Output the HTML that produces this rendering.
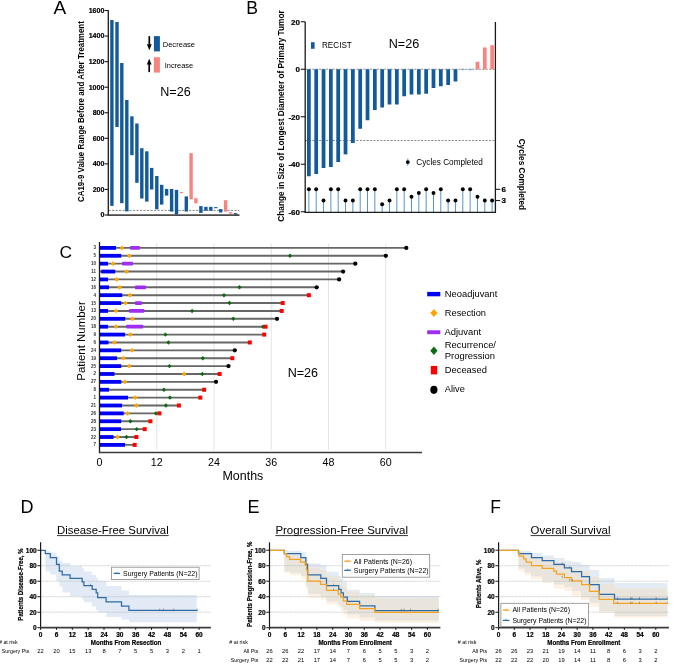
<!DOCTYPE html>
<html><head><meta charset="utf-8"><title>Figure</title>
<style>
html,body{margin:0;padding:0;background:#fff;}
body{width:685px;height:664px;overflow:hidden;}
svg{display:block;font-family:"Liberation Sans",sans-serif;will-change:transform;}
</style></head><body>
<svg width="685" height="664" viewBox="0 0 685 664">
<rect x="0" y="0" width="685" height="664" fill="#fff"/>
<text x="53.4" y="13.8" font-size="19">A</text>
<line x1="108.5" y1="210.4" x2="239.3" y2="210.4" stroke="#555" stroke-width="0.7" stroke-dasharray="2.2 1.3"/>
<rect x="110.2" y="20" width="3.4" height="185.9" fill="#135a9c"/>
<rect x="115.3" y="22" width="3.4" height="105" fill="#135a9c"/>
<rect x="120.1" y="63" width="3.4" height="140.2" fill="#135a9c"/>
<rect x="125.1" y="100" width="3.4" height="111.4" fill="#135a9c"/>
<rect x="130.2" y="116.3" width="3.4" height="38.9" fill="#135a9c"/>
<rect x="135.2" y="123.5" width="3.4" height="59.3" fill="#135a9c"/>
<rect x="140.1" y="148.2" width="3.4" height="50.3" fill="#135a9c"/>
<rect x="145.1" y="151.3" width="3.4" height="50.3" fill="#135a9c"/>
<rect x="150" y="167.9" width="3.4" height="21.6" fill="#135a9c"/>
<rect x="155.1" y="176" width="3.4" height="33.3" fill="#135a9c"/>
<rect x="160" y="184.8" width="3.4" height="19.8" fill="#135a9c"/>
<rect x="164.9" y="188.9" width="3.4" height="6.7" fill="#135a9c"/>
<rect x="169.9" y="188.9" width="3.4" height="22.7" fill="#135a9c"/>
<rect x="174.8" y="189.9" width="3.4" height="24.5" fill="#135a9c"/>
<rect x="179.7" y="192" width="3.4" height="1.1" fill="#f88482"/>
<rect x="184.6" y="196.4" width="3.4" height="15.1" fill="#135a9c"/>
<rect x="189.4" y="153.1" width="3.4" height="46.3" fill="#f88482"/>
<rect x="194.2" y="198.2" width="3.4" height="5.1" fill="#f88482"/>
<rect x="199.2" y="206.1" width="3.4" height="6.8" fill="#135a9c"/>
<rect x="204.2" y="206.8" width="3.4" height="3.9" fill="#135a9c"/>
<rect x="209.1" y="206.8" width="3.4" height="3.9" fill="#135a9c"/>
<rect x="214.1" y="207.1" width="3.4" height="1.1" fill="#135a9c"/>
<rect x="219" y="209.1" width="3.4" height="3.4" fill="#135a9c"/>
<rect x="223.9" y="200.2" width="3.4" height="11.5" fill="#f88482"/>
<rect x="229" y="212.2" width="3.4" height="1.5" fill="#f88482"/>
<rect x="233.9" y="213.2" width="3.4" height="1.5" fill="#0d3d6e"/>
<line x1="108.3" y1="10" x2="108.3" y2="215.8" stroke="#1a1a1a" stroke-width="1.3"/>
<line x1="107.7" y1="215.1" x2="239.5" y2="215.1" stroke="#4a4a4a" stroke-width="1.8"/>
<line x1="104.6" y1="215" x2="108.3" y2="215" stroke="#1a1a1a" stroke-width="1.1"/>
<text x="104.4" y="217.3" font-size="7.05" font-weight="bold" text-anchor="end" stroke="#000" stroke-width="0.2">0</text>
<line x1="104.6" y1="189.44" x2="108.3" y2="189.44" stroke="#1a1a1a" stroke-width="1.1"/>
<text x="104.4" y="191.74" font-size="7.05" font-weight="bold" text-anchor="end" stroke="#000" stroke-width="0.2">200</text>
<line x1="104.6" y1="163.88" x2="108.3" y2="163.88" stroke="#1a1a1a" stroke-width="1.1"/>
<text x="104.4" y="166.18" font-size="7.05" font-weight="bold" text-anchor="end" stroke="#000" stroke-width="0.2">400</text>
<line x1="104.6" y1="138.32" x2="108.3" y2="138.32" stroke="#1a1a1a" stroke-width="1.1"/>
<text x="104.4" y="140.62" font-size="7.05" font-weight="bold" text-anchor="end" stroke="#000" stroke-width="0.2">600</text>
<line x1="104.6" y1="112.76" x2="108.3" y2="112.76" stroke="#1a1a1a" stroke-width="1.1"/>
<text x="104.4" y="115.06" font-size="7.05" font-weight="bold" text-anchor="end" stroke="#000" stroke-width="0.2">800</text>
<line x1="104.6" y1="87.2" x2="108.3" y2="87.2" stroke="#1a1a1a" stroke-width="1.1"/>
<text x="104.4" y="89.5" font-size="7.05" font-weight="bold" text-anchor="end" stroke="#000" stroke-width="0.2">1000</text>
<line x1="104.6" y1="61.64" x2="108.3" y2="61.64" stroke="#1a1a1a" stroke-width="1.1"/>
<text x="104.4" y="63.94" font-size="7.05" font-weight="bold" text-anchor="end" stroke="#000" stroke-width="0.2">1200</text>
<line x1="104.6" y1="36.08" x2="108.3" y2="36.08" stroke="#1a1a1a" stroke-width="1.1"/>
<text x="104.4" y="38.38" font-size="7.05" font-weight="bold" text-anchor="end" stroke="#000" stroke-width="0.2">1400</text>
<line x1="104.6" y1="10.52" x2="108.3" y2="10.52" stroke="#1a1a1a" stroke-width="1.1"/>
<text x="104.4" y="12.82" font-size="7.05" font-weight="bold" text-anchor="end" stroke="#000" stroke-width="0.2">1600</text>
<line x1="149.3" y1="36.2" x2="149.3" y2="45" stroke="#000" stroke-width="1.7"/>
<polygon points="146.9,44.2 151.7,44.2 149.3,50.2" fill="#000"/>
<rect x="153.9" y="36.1" width="6" height="15.3" fill="#135a9c"/>
<text x="162.7" y="46.9" font-size="7.8" textLength="32.4" lengthAdjust="spacingAndGlyphs">Decrease</text>
<line x1="149.2" y1="63.5" x2="149.2" y2="72.1" stroke="#000" stroke-width="1.7"/>
<polygon points="146.8,64.6 151.6,64.6 149.2,58.7" fill="#000"/>
<rect x="153.9" y="57.2" width="6" height="15.4" fill="#f88482"/>
<text x="164.7" y="68.1" font-size="7.8" textLength="28.5" lengthAdjust="spacingAndGlyphs">Increase</text>
<text x="160.3" y="95.7" font-size="12.6" textLength="30.4" lengthAdjust="spacingAndGlyphs">N=26</text>
<text x="84.5" y="111.6" font-size="8.8" font-weight="bold" text-anchor="middle" transform="rotate(-90 84.5 111.6)" textLength="180.8" lengthAdjust="spacingAndGlyphs">CA19-9 Value Range Before and After Treatment</text>
<text x="246.2" y="13.8" font-size="17.6">B</text>
<line x1="305.5" y1="69.25" x2="495.4" y2="69.25" stroke="#555" stroke-width="0.7" stroke-dasharray="2 1.4"/>
<line x1="305.5" y1="140.5" x2="495.4" y2="140.5" stroke="#555" stroke-width="0.7" stroke-dasharray="2 1.4"/>
<rect x="307" y="69.25" width="3.75" height="107" fill="#135a9c"/>
<rect x="314.33" y="69.25" width="3.75" height="104.75" fill="#135a9c"/>
<rect x="321.66" y="69.25" width="3.75" height="98.75" fill="#135a9c"/>
<rect x="328.99" y="69.25" width="3.75" height="97.75" fill="#135a9c"/>
<rect x="336.32" y="69.25" width="3.75" height="92.75" fill="#135a9c"/>
<rect x="343.65" y="69.25" width="3.75" height="85.15" fill="#135a9c"/>
<rect x="350.98" y="69.25" width="3.75" height="73.75" fill="#135a9c"/>
<rect x="358.31" y="69.25" width="3.75" height="59.5" fill="#135a9c"/>
<rect x="365.64" y="69.25" width="3.75" height="51" fill="#135a9c"/>
<rect x="372.97" y="69.25" width="3.75" height="40.75" fill="#135a9c"/>
<rect x="380.3" y="69.25" width="3.75" height="38.25" fill="#135a9c"/>
<rect x="387.63" y="69.25" width="3.75" height="35.25" fill="#135a9c"/>
<rect x="394.96" y="69.25" width="3.75" height="35.25" fill="#135a9c"/>
<rect x="402.29" y="69.25" width="3.75" height="27" fill="#135a9c"/>
<rect x="409.62" y="69.25" width="3.75" height="25.25" fill="#135a9c"/>
<rect x="416.95" y="69.25" width="3.75" height="25.25" fill="#135a9c"/>
<rect x="424.28" y="69.25" width="3.75" height="24.5" fill="#135a9c"/>
<rect x="431.61" y="69.25" width="3.75" height="18.75" fill="#135a9c"/>
<rect x="438.94" y="69.25" width="3.75" height="17" fill="#135a9c"/>
<rect x="446.27" y="69.25" width="3.75" height="15.75" fill="#135a9c"/>
<rect x="453.6" y="69.25" width="3.75" height="12.25" fill="#135a9c"/>
<rect x="460.93" y="68.95" width="3.75" height="1.2" fill="#7fa8d2"/>
<rect x="468.26" y="68.95" width="3.75" height="1.2" fill="#7fa8d2"/>
<rect x="475.59" y="61.75" width="3.75" height="7.5" fill="#f88482"/>
<rect x="482.92" y="47.5" width="3.75" height="21.75" fill="#f88482"/>
<rect x="490.25" y="45.25" width="3.75" height="24" fill="#f88482"/>
<line x1="308.88" y1="212" x2="308.88" y2="189.32" stroke="#5b93c8" stroke-width="1"/>
<circle cx="308.88" cy="189.32" r="1.95" fill="#000"/>
<line x1="316.2" y1="212" x2="316.2" y2="189.32" stroke="#5b93c8" stroke-width="1"/>
<circle cx="316.2" cy="189.32" r="1.95" fill="#000"/>
<line x1="323.54" y1="212" x2="323.54" y2="200.51" stroke="#5b93c8" stroke-width="1"/>
<circle cx="323.54" cy="200.51" r="1.95" fill="#000"/>
<line x1="330.87" y1="212" x2="330.87" y2="189.32" stroke="#5b93c8" stroke-width="1"/>
<circle cx="330.87" cy="189.32" r="1.95" fill="#000"/>
<line x1="338.19" y1="212" x2="338.19" y2="189.32" stroke="#5b93c8" stroke-width="1"/>
<circle cx="338.19" cy="189.32" r="1.95" fill="#000"/>
<line x1="345.52" y1="212" x2="345.52" y2="200.51" stroke="#5b93c8" stroke-width="1"/>
<circle cx="345.52" cy="200.51" r="1.95" fill="#000"/>
<line x1="352.86" y1="212" x2="352.86" y2="200.51" stroke="#5b93c8" stroke-width="1"/>
<circle cx="352.86" cy="200.51" r="1.95" fill="#000"/>
<line x1="360.19" y1="212" x2="360.19" y2="189.32" stroke="#5b93c8" stroke-width="1"/>
<circle cx="360.19" cy="189.32" r="1.95" fill="#000"/>
<line x1="367.51" y1="212" x2="367.51" y2="189.32" stroke="#5b93c8" stroke-width="1"/>
<circle cx="367.51" cy="189.32" r="1.95" fill="#000"/>
<line x1="374.85" y1="212" x2="374.85" y2="189.32" stroke="#5b93c8" stroke-width="1"/>
<circle cx="374.85" cy="189.32" r="1.95" fill="#000"/>
<line x1="382.18" y1="212" x2="382.18" y2="204.24" stroke="#5b93c8" stroke-width="1"/>
<circle cx="382.18" cy="204.24" r="1.95" fill="#000"/>
<line x1="389.5" y1="212" x2="389.5" y2="200.51" stroke="#5b93c8" stroke-width="1"/>
<circle cx="389.5" cy="200.51" r="1.95" fill="#000"/>
<line x1="396.84" y1="212" x2="396.84" y2="189.32" stroke="#5b93c8" stroke-width="1"/>
<circle cx="396.84" cy="189.32" r="1.95" fill="#000"/>
<line x1="404.17" y1="212" x2="404.17" y2="189.32" stroke="#5b93c8" stroke-width="1"/>
<circle cx="404.17" cy="189.32" r="1.95" fill="#000"/>
<line x1="411.5" y1="212" x2="411.5" y2="196.78" stroke="#5b93c8" stroke-width="1"/>
<circle cx="411.5" cy="196.78" r="1.95" fill="#000"/>
<line x1="418.82" y1="212" x2="418.82" y2="193.05" stroke="#5b93c8" stroke-width="1"/>
<circle cx="418.82" cy="193.05" r="1.95" fill="#000"/>
<line x1="426.15" y1="212" x2="426.15" y2="189.32" stroke="#5b93c8" stroke-width="1"/>
<circle cx="426.15" cy="189.32" r="1.95" fill="#000"/>
<line x1="433.49" y1="212" x2="433.49" y2="193.05" stroke="#5b93c8" stroke-width="1"/>
<circle cx="433.49" cy="193.05" r="1.95" fill="#000"/>
<line x1="440.81" y1="212" x2="440.81" y2="189.32" stroke="#5b93c8" stroke-width="1"/>
<circle cx="440.81" cy="189.32" r="1.95" fill="#000"/>
<line x1="448.14" y1="212" x2="448.14" y2="200.51" stroke="#5b93c8" stroke-width="1"/>
<circle cx="448.14" cy="200.51" r="1.95" fill="#000"/>
<line x1="455.48" y1="212" x2="455.48" y2="200.51" stroke="#5b93c8" stroke-width="1"/>
<circle cx="455.48" cy="200.51" r="1.95" fill="#000"/>
<line x1="462.81" y1="212" x2="462.81" y2="189.32" stroke="#5b93c8" stroke-width="1"/>
<circle cx="462.81" cy="189.32" r="1.95" fill="#000"/>
<line x1="470.13" y1="212" x2="470.13" y2="189.32" stroke="#5b93c8" stroke-width="1"/>
<circle cx="470.13" cy="189.32" r="1.95" fill="#000"/>
<line x1="477.47" y1="212" x2="477.47" y2="196.78" stroke="#5b93c8" stroke-width="1"/>
<circle cx="477.47" cy="196.78" r="1.95" fill="#000"/>
<line x1="484.8" y1="212" x2="484.8" y2="200.51" stroke="#5b93c8" stroke-width="1"/>
<circle cx="484.8" cy="200.51" r="1.95" fill="#000"/>
<line x1="492.12" y1="212" x2="492.12" y2="200.51" stroke="#5b93c8" stroke-width="1"/>
<circle cx="492.12" cy="200.51" r="1.95" fill="#000"/>
<line x1="305.2" y1="21.7" x2="305.2" y2="213" stroke="#1a1a1a" stroke-width="1.3"/>
<line x1="304.6" y1="212.4" x2="496" y2="212.4" stroke="#1a1a1a" stroke-width="1.4"/>
<line x1="495.4" y1="22" x2="495.4" y2="213" stroke="#1a1a1a" stroke-width="1.3"/>
<line x1="300.8" y1="21.75" x2="305.2" y2="21.75" stroke="#1a1a1a" stroke-width="1.1"/>
<text x="300" y="24.55" font-size="8" font-weight="bold" text-anchor="end" stroke="#000" stroke-width="0.2">20</text>
<line x1="300.8" y1="69.25" x2="305.2" y2="69.25" stroke="#1a1a1a" stroke-width="1.1"/>
<text x="300" y="72.05" font-size="8" font-weight="bold" text-anchor="end" stroke="#000" stroke-width="0.2">0</text>
<line x1="300.8" y1="116.75" x2="305.2" y2="116.75" stroke="#1a1a1a" stroke-width="1.1"/>
<text x="300" y="119.55" font-size="8" font-weight="bold" text-anchor="end" stroke="#000" stroke-width="0.2">-20</text>
<line x1="300.8" y1="164.25" x2="305.2" y2="164.25" stroke="#1a1a1a" stroke-width="1.1"/>
<text x="300" y="167.05" font-size="8" font-weight="bold" text-anchor="end" stroke="#000" stroke-width="0.2">-40</text>
<line x1="300.8" y1="211.75" x2="305.2" y2="211.75" stroke="#1a1a1a" stroke-width="1.1"/>
<text x="300" y="214.55" font-size="8" font-weight="bold" text-anchor="end" stroke="#000" stroke-width="0.2">-60</text>
<line x1="495.4" y1="189.32" x2="500.2" y2="189.32" stroke="#1a1a1a" stroke-width="1.1"/>
<text x="501.4" y="192.12" font-size="8" font-weight="bold" stroke="#000" stroke-width="0.2">6</text>
<line x1="495.4" y1="200.51" x2="500.2" y2="200.51" stroke="#1a1a1a" stroke-width="1.1"/>
<text x="501.4" y="203.31" font-size="8" font-weight="bold" stroke="#000" stroke-width="0.2">3</text>
<rect x="311" y="42.2" width="3.6" height="6.6" fill="#135a9c"/>
<text x="322" y="48.2" font-size="9.3" textLength="29.8" lengthAdjust="spacingAndGlyphs">RECIST</text>
<text x="388.7" y="48.3" font-size="12.6" textLength="30.5" lengthAdjust="spacingAndGlyphs">N=26</text>
<line x1="407.8" y1="158.6" x2="407.8" y2="165.8" stroke="#5b93c8" stroke-width="1"/>
<circle cx="407.8" cy="162.1" r="1.95" fill="#000"/>
<text x="416.3" y="165" font-size="8.2" textLength="66.5" lengthAdjust="spacingAndGlyphs">Cycles Completed</text>
<text x="284.1" y="116" font-size="8.8" font-weight="bold" text-anchor="middle" transform="rotate(-90 284.1 116)" textLength="211.3" lengthAdjust="spacingAndGlyphs">Change in Size of Longest Diameter of Primary Tumor</text>
<text x="519.3" y="174.4" font-size="8.25" font-weight="bold" text-anchor="middle" transform="rotate(90 519.3 174.4)" textLength="71.5" lengthAdjust="spacingAndGlyphs">Cycles Completed</text>
<text x="59.4" y="257.6" font-size="17.4">C</text>
<line x1="156.74" y1="243.5" x2="156.74" y2="449.8" stroke="#dcdcdc" stroke-width="0.8"/>
<line x1="213.98" y1="243.5" x2="213.98" y2="449.8" stroke="#dcdcdc" stroke-width="0.8"/>
<line x1="271.22" y1="243.5" x2="271.22" y2="449.8" stroke="#dcdcdc" stroke-width="0.8"/>
<line x1="328.46" y1="243.5" x2="328.46" y2="449.8" stroke="#dcdcdc" stroke-width="0.8"/>
<line x1="385.7" y1="243.5" x2="385.7" y2="449.8" stroke="#dcdcdc" stroke-width="0.8"/>
<line x1="99.5" y1="247.9" x2="406.3" y2="247.9" stroke="#676767" stroke-width="1.9"/>
<rect x="100" y="246" width="16" height="3.8" fill="#0000f5"/>
<rect x="130" y="246" width="10" height="3.8" fill="#a02ef0" rx="0.8"/>
<polygon points="122,245.5 124.3,247.9 122,250.3 119.7,247.9" fill="#ffa500"/>
<circle cx="406.3" cy="247.9" r="2.15" fill="#000"/>
<text x="96" y="249.4" font-size="4.5" font-weight="bold" text-anchor="end" fill="#333">3</text>
<line x1="99.5" y1="255.78" x2="385.8" y2="255.78" stroke="#676767" stroke-width="1.9"/>
<rect x="100" y="253.88" width="21.2" height="3.8" fill="#0000f5"/>
<polygon points="129.4,253.38 131.7,255.78 129.4,258.18 127.1,255.78" fill="#ffa500"/>
<polygon points="290,253.58 292.1,255.78 290,257.98 287.9,255.78" fill="#0b6a12"/>
<circle cx="385.8" cy="255.78" r="2.15" fill="#000"/>
<text x="96" y="257.28" font-size="4.5" font-weight="bold" text-anchor="end" fill="#333">5</text>
<line x1="99.5" y1="263.66" x2="355.3" y2="263.66" stroke="#676767" stroke-width="1.9"/>
<rect x="100" y="261.76" width="8" height="3.8" fill="#0000f5"/>
<rect x="122" y="261.76" width="11" height="3.8" fill="#a02ef0" rx="0.8"/>
<polygon points="113,261.26 115.3,263.66 113,266.06 110.7,263.66" fill="#ffa500"/>
<circle cx="355.3" cy="263.66" r="2.15" fill="#000"/>
<text x="96" y="265.16" font-size="4.5" font-weight="bold" text-anchor="end" fill="#333">10</text>
<line x1="99.5" y1="271.54" x2="343.1" y2="271.54" stroke="#676767" stroke-width="1.9"/>
<rect x="101.2" y="269.64" width="14" height="3.8" fill="#0000f5"/>
<polygon points="126.5,269.14 128.8,271.54 126.5,273.94 124.2,271.54" fill="#ffa500"/>
<circle cx="343.1" cy="271.54" r="2.15" fill="#000"/>
<text x="96" y="273.04" font-size="4.5" font-weight="bold" text-anchor="end" fill="#333">11</text>
<line x1="99.5" y1="279.42" x2="339.1" y2="279.42" stroke="#676767" stroke-width="1.9"/>
<rect x="100" y="277.52" width="8" height="3.8" fill="#0000f5"/>
<polygon points="116.7,277.02 119,279.42 116.7,281.82 114.4,279.42" fill="#ffa500"/>
<circle cx="339.1" cy="279.42" r="2.15" fill="#000"/>
<text x="96" y="280.92" font-size="4.5" font-weight="bold" text-anchor="end" fill="#333">12</text>
<line x1="99.5" y1="287.3" x2="316.7" y2="287.3" stroke="#676767" stroke-width="1.9"/>
<rect x="100" y="285.4" width="9" height="3.8" fill="#0000f5"/>
<rect x="135" y="285.4" width="11" height="3.8" fill="#a02ef0" rx="0.8"/>
<polygon points="119.7,284.9 122,287.3 119.7,289.7 117.4,287.3" fill="#ffa500"/>
<polygon points="239.5,285.1 241.6,287.3 239.5,289.5 237.4,287.3" fill="#0b6a12"/>
<circle cx="316.7" cy="287.3" r="2.15" fill="#000"/>
<text x="96" y="288.8" font-size="4.5" font-weight="bold" text-anchor="end" fill="#333">16</text>
<line x1="99.5" y1="295.18" x2="308.9" y2="295.18" stroke="#676767" stroke-width="1.9"/>
<rect x="100" y="293.28" width="22.2" height="3.8" fill="#0000f5"/>
<polygon points="130,292.78 132.3,295.18 130,297.58 127.7,295.18" fill="#ffa500"/>
<polygon points="224,292.98 226.1,295.18 224,297.38 221.9,295.18" fill="#0b6a12"/>
<rect x="306.9" y="293.18" width="4" height="4" fill="#ff0000"/>
<text x="96" y="296.68" font-size="4.5" font-weight="bold" text-anchor="end" fill="#333">4</text>
<line x1="99.5" y1="303.06" x2="282.7" y2="303.06" stroke="#676767" stroke-width="1.9"/>
<rect x="100" y="301.16" width="21.2" height="3.8" fill="#0000f5"/>
<rect x="135" y="301.16" width="7" height="3.8" fill="#a02ef0" rx="0.8"/>
<polygon points="125.5,300.66 127.8,303.06 125.5,305.46 123.2,303.06" fill="#ffa500"/>
<polygon points="229.5,300.86 231.6,303.06 229.5,305.26 227.4,303.06" fill="#0b6a12"/>
<rect x="280.7" y="301.06" width="4" height="4" fill="#ff0000"/>
<text x="96" y="304.56" font-size="4.5" font-weight="bold" text-anchor="end" fill="#333">15</text>
<line x1="99.5" y1="310.94" x2="281.7" y2="310.94" stroke="#676767" stroke-width="1.9"/>
<rect x="100" y="309.04" width="8" height="3.8" fill="#0000f5"/>
<rect x="129" y="309.04" width="15.4" height="3.8" fill="#a02ef0" rx="0.8"/>
<polygon points="116,308.54 118.3,310.94 116,313.34 113.7,310.94" fill="#ffa500"/>
<polygon points="192.1,308.74 194.2,310.94 192.1,313.14 190,310.94" fill="#0b6a12"/>
<rect x="279.7" y="308.94" width="4" height="4" fill="#ff0000"/>
<text x="96" y="312.44" font-size="4.5" font-weight="bold" text-anchor="end" fill="#333">13</text>
<line x1="99.5" y1="318.82" x2="277" y2="318.82" stroke="#676767" stroke-width="1.9"/>
<rect x="100" y="316.92" width="25.2" height="3.8" fill="#0000f5"/>
<polygon points="132.4,316.42 134.7,318.82 132.4,321.22 130.1,318.82" fill="#ffa500"/>
<polygon points="233.3,316.62 235.4,318.82 233.3,321.02 231.2,318.82" fill="#0b6a12"/>
<circle cx="277" cy="318.82" r="2.15" fill="#000"/>
<text x="96" y="320.32" font-size="4.5" font-weight="bold" text-anchor="end" fill="#333">20</text>
<line x1="99.5" y1="326.7" x2="265.5" y2="326.7" stroke="#676767" stroke-width="1.9"/>
<rect x="100" y="324.8" width="8" height="3.8" fill="#0000f5"/>
<rect x="126.2" y="324.8" width="17" height="3.8" fill="#a02ef0" rx="0.8"/>
<polygon points="116,324.3 118.3,326.7 116,329.1 113.7,326.7" fill="#ffa500"/>
<polygon points="263,324.5 265.1,326.7 263,328.9 260.9,326.7" fill="#0b6a12"/>
<rect x="263.5" y="324.7" width="4" height="4" fill="#ff0000"/>
<text x="96" y="328.2" font-size="4.5" font-weight="bold" text-anchor="end" fill="#333">18</text>
<line x1="99.5" y1="334.58" x2="264.2" y2="334.58" stroke="#676767" stroke-width="1.9"/>
<rect x="100" y="332.68" width="25" height="3.8" fill="#0000f5"/>
<polygon points="130.4,332.18 132.7,334.58 130.4,336.98 128.1,334.58" fill="#ffa500"/>
<polygon points="165.4,332.38 167.5,334.58 165.4,336.78 163.3,334.58" fill="#0b6a12"/>
<rect x="262.2" y="332.58" width="4" height="4" fill="#ff0000"/>
<text x="96" y="336.08" font-size="4.5" font-weight="bold" text-anchor="end" fill="#333">9</text>
<line x1="99.5" y1="342.46" x2="249.8" y2="342.46" stroke="#676767" stroke-width="1.9"/>
<rect x="100" y="340.56" width="8.5" height="3.8" fill="#0000f5"/>
<polygon points="114.5,340.06 116.8,342.46 114.5,344.86 112.2,342.46" fill="#ffa500"/>
<polygon points="168.4,340.26 170.5,342.46 168.4,344.66 166.3,342.46" fill="#0b6a12"/>
<rect x="247.8" y="340.46" width="4" height="4" fill="#ff0000"/>
<text x="96" y="343.96" font-size="4.5" font-weight="bold" text-anchor="end" fill="#333">6</text>
<line x1="99.5" y1="350.34" x2="234.8" y2="350.34" stroke="#676767" stroke-width="1.9"/>
<rect x="100" y="348.44" width="21.2" height="3.8" fill="#0000f5"/>
<polygon points="132,347.94 134.3,350.34 132,352.74 129.7,350.34" fill="#ffa500"/>
<circle cx="234.8" cy="350.34" r="2.15" fill="#000"/>
<text x="96" y="351.84" font-size="4.5" font-weight="bold" text-anchor="end" fill="#333">24</text>
<line x1="99.5" y1="358.22" x2="232.3" y2="358.22" stroke="#676767" stroke-width="1.9"/>
<rect x="100" y="356.32" width="17" height="3.8" fill="#0000f5"/>
<polygon points="123.5,355.82 125.8,358.22 123.5,360.62 121.2,358.22" fill="#ffa500"/>
<polygon points="202.8,356.02 204.9,358.22 202.8,360.42 200.7,358.22" fill="#0b6a12"/>
<rect x="230.3" y="356.22" width="4" height="4" fill="#ff0000"/>
<text x="96" y="359.72" font-size="4.5" font-weight="bold" text-anchor="end" fill="#333">19</text>
<line x1="99.5" y1="366.1" x2="228.5" y2="366.1" stroke="#676767" stroke-width="1.9"/>
<rect x="100" y="364.2" width="21.2" height="3.8" fill="#0000f5"/>
<polygon points="129.2,363.7 131.5,366.1 129.2,368.5 126.9,366.1" fill="#ffa500"/>
<polygon points="169.4,363.9 171.5,366.1 169.4,368.3 167.3,366.1" fill="#0b6a12"/>
<circle cx="228.5" cy="366.1" r="2.15" fill="#000"/>
<text x="96" y="367.6" font-size="4.5" font-weight="bold" text-anchor="end" fill="#333">25</text>
<line x1="99.5" y1="373.98" x2="219.6" y2="373.98" stroke="#676767" stroke-width="1.9"/>
<rect x="100" y="372.08" width="14.5" height="3.8" fill="#0000f5"/>
<polygon points="184.1,371.58 186.4,373.98 184.1,376.38 181.8,373.98" fill="#ffa500"/>
<polygon points="202.3,371.78 204.4,373.98 202.3,376.18 200.2,373.98" fill="#0b6a12"/>
<rect x="217.6" y="371.98" width="4" height="4" fill="#ff0000"/>
<text x="96" y="375.48" font-size="4.5" font-weight="bold" text-anchor="end" fill="#333">2</text>
<line x1="99.5" y1="381.86" x2="216" y2="381.86" stroke="#676767" stroke-width="1.9"/>
<rect x="100" y="379.96" width="21.2" height="3.8" fill="#0000f5"/>
<polygon points="125,379.46 127.3,381.86 125,384.26 122.7,381.86" fill="#ffa500"/>
<circle cx="216" cy="381.86" r="2.15" fill="#000"/>
<text x="96" y="383.36" font-size="4.5" font-weight="bold" text-anchor="end" fill="#333">27</text>
<line x1="99.5" y1="389.74" x2="204.1" y2="389.74" stroke="#676767" stroke-width="1.9"/>
<rect x="100" y="387.84" width="9" height="3.8" fill="#0000f5"/>
<polygon points="163.9,387.54 166,389.74 163.9,391.94 161.8,389.74" fill="#0b6a12"/>
<rect x="202.1" y="387.74" width="4" height="4" fill="#ff0000"/>
<text x="96" y="391.24" font-size="4.5" font-weight="bold" text-anchor="end" fill="#333">8</text>
<line x1="99.5" y1="397.62" x2="200.3" y2="397.62" stroke="#676767" stroke-width="1.9"/>
<rect x="100" y="395.72" width="28" height="3.8" fill="#0000f5"/>
<polygon points="135.2,395.22 137.5,397.62 135.2,400.02 132.9,397.62" fill="#ffa500"/>
<polygon points="169.9,395.42 172,397.62 169.9,399.82 167.8,397.62" fill="#0b6a12"/>
<rect x="198.3" y="395.62" width="4" height="4" fill="#ff0000"/>
<text x="96" y="399.12" font-size="4.5" font-weight="bold" text-anchor="end" fill="#333">1</text>
<line x1="99.5" y1="405.5" x2="178.9" y2="405.5" stroke="#676767" stroke-width="1.9"/>
<rect x="100" y="403.6" width="22" height="3.8" fill="#0000f5"/>
<polygon points="136.4,403.1 138.7,405.5 136.4,407.9 134.1,405.5" fill="#ffa500"/>
<polygon points="165.9,403.3 168,405.5 165.9,407.7 163.8,405.5" fill="#0b6a12"/>
<rect x="176.9" y="403.5" width="4" height="4" fill="#ff0000"/>
<text x="96" y="407" font-size="4.5" font-weight="bold" text-anchor="end" fill="#333">21</text>
<line x1="99.5" y1="413.38" x2="159.4" y2="413.38" stroke="#676767" stroke-width="1.9"/>
<rect x="100" y="411.48" width="23.7" height="3.8" fill="#0000f5"/>
<polygon points="127.5,410.98 129.8,413.38 127.5,415.78 125.2,413.38" fill="#ffa500"/>
<polygon points="155.9,411.18 158,413.38 155.9,415.58 153.8,413.38" fill="#0b6a12"/>
<rect x="157.4" y="411.38" width="4" height="4" fill="#ff0000"/>
<text x="96" y="414.88" font-size="4.5" font-weight="bold" text-anchor="end" fill="#333">26</text>
<line x1="99.5" y1="421.26" x2="150.4" y2="421.26" stroke="#676767" stroke-width="1.9"/>
<rect x="100" y="419.36" width="21.2" height="3.8" fill="#0000f5"/>
<polygon points="130.4,419.06 132.5,421.26 130.4,423.46 128.3,421.26" fill="#0b6a12"/>
<rect x="148.4" y="419.26" width="4" height="4" fill="#ff0000"/>
<text x="96" y="422.76" font-size="4.5" font-weight="bold" text-anchor="end" fill="#333">28</text>
<line x1="99.5" y1="429.14" x2="144.7" y2="429.14" stroke="#676767" stroke-width="1.9"/>
<rect x="100" y="427.24" width="21" height="3.8" fill="#0000f5"/>
<polygon points="136.7,426.94 138.8,429.14 136.7,431.34 134.6,429.14" fill="#0b6a12"/>
<rect x="142.7" y="427.14" width="4" height="4" fill="#ff0000"/>
<text x="96" y="430.64" font-size="4.5" font-weight="bold" text-anchor="end" fill="#333">23</text>
<line x1="99.5" y1="437.02" x2="136.4" y2="437.02" stroke="#676767" stroke-width="1.9"/>
<rect x="100" y="435.12" width="13.5" height="3.8" fill="#0000f5"/>
<polygon points="117.5,434.62 119.8,437.02 117.5,439.42 115.2,437.02" fill="#ffa500"/>
<polygon points="126.5,434.82 128.6,437.02 126.5,439.22 124.4,437.02" fill="#0b6a12"/>
<rect x="134.4" y="435.02" width="4" height="4" fill="#ff0000"/>
<text x="96" y="438.52" font-size="4.5" font-weight="bold" text-anchor="end" fill="#333">22</text>
<line x1="99.5" y1="444.9" x2="134.7" y2="444.9" stroke="#676767" stroke-width="1.9"/>
<rect x="100" y="443" width="25" height="3.8" fill="#0000f5"/>
<rect x="132.7" y="442.9" width="4" height="4" fill="#ff0000"/>
<text x="96" y="446.4" font-size="4.5" font-weight="bold" text-anchor="end" fill="#333">7</text>
<line x1="99.5" y1="242" x2="99.5" y2="453.2" stroke="#1a1a1a" stroke-width="1.3"/>
<line x1="98.9" y1="452.6" x2="422" y2="452.6" stroke="#3a3a3a" stroke-width="1.5"/>
<text x="99.5" y="465.8" font-size="10.7" text-anchor="middle">0</text>
<text x="156.74" y="465.8" font-size="10.7" text-anchor="middle">12</text>
<text x="213.98" y="465.8" font-size="10.7" text-anchor="middle">24</text>
<text x="271.22" y="465.8" font-size="10.7" text-anchor="middle">36</text>
<text x="328.46" y="465.8" font-size="10.7" text-anchor="middle">48</text>
<text x="385.7" y="465.8" font-size="10.7" text-anchor="middle">60</text>
<text x="242.9" y="479.8" font-size="13" text-anchor="middle" textLength="40.8" lengthAdjust="spacingAndGlyphs">Months</text>
<text x="84.8" y="341" font-size="11.5" text-anchor="middle" transform="rotate(-90 84.8 341)" textLength="79.5" lengthAdjust="spacingAndGlyphs">Patient Number</text>
<text x="287.7" y="377" font-size="13" textLength="30.4" lengthAdjust="spacingAndGlyphs">N=26</text>
<rect x="427.2" y="291.9" width="13.1" height="4.4" fill="#0000f5"/>
<text x="444.8" y="296.9" font-size="9.4" textLength="52.6" lengthAdjust="spacingAndGlyphs">Neoadjuvant</text>
<polygon points="433.9,308.9 437.5,313 433.9,317.1 430.3,313" fill="#ffa500"/>
<text x="444.8" y="316" font-size="9.4" textLength="41.2" lengthAdjust="spacingAndGlyphs">Resection</text>
<rect x="427.2" y="330.3" width="13.1" height="3.9" fill="#a02ef0"/>
<text x="444.4" y="334.9" font-size="9.4" textLength="36.7" lengthAdjust="spacingAndGlyphs">Adjuvant</text>
<polygon points="433.9,346.6 437.5,350.8 433.9,355 430.3,350.8" fill="#0b6a12"/>
<text x="444.8" y="348.4" font-size="9.4" textLength="51.2" lengthAdjust="spacingAndGlyphs">Recurrence/</text>
<text x="444.8" y="359.2" font-size="9.4" textLength="50.2" lengthAdjust="spacingAndGlyphs">Progression</text>
<rect x="430.8" y="365.9" width="6.4" height="8.5" fill="#ff0000"/>
<text x="444.8" y="373.3" font-size="9.4" textLength="42.1" lengthAdjust="spacingAndGlyphs">Deceased</text>
<ellipse cx="433.9" cy="389.85" rx="3.6" ry="4.05" fill="#000"/>
<text x="444.8" y="392.3" font-size="9.4" textLength="20" lengthAdjust="spacingAndGlyphs">Alive</text>
<text x="20.4" y="513.2" font-size="18">D</text>
<text x="57" y="533.7" font-size="11.4" textLength="111.7" lengthAdjust="spacingAndGlyphs">Disease-Free Survival</text>
<line x1="57" y1="535.6" x2="168.7" y2="535.6" stroke="#000" stroke-width="0.8"/>
<polygon points="45.4,551 50.2,551 50.2,552.8 56.3,552.8 56.3,556.4 59.3,556.4 59.3,560.7 62.3,560.7 62.3,563.1 70.1,563.1 70.1,566.1 82.2,566.1 82.2,568.5 84,568.5 84,571.5 91.8,571.5 91.8,575.1 96,575.1 96,577.5 97.8,577.5 97.8,581.1 106.3,581.1 106.3,586.1 121.4,586.1 121.4,590.4 128.9,590.4 128.9,595.1 196.8,595.1 196.8,622.3 128.9,622.3 128.9,619.4 121.4,619.4 121.4,617 106.3,617 106.3,612.5 97.8,612.5 97.8,610.1 96,610.1 96,606.4 91.8,606.4 91.8,602.2 84,602.2 84,599.8 82.2,599.8 82.2,596.2 70.1,596.2 70.1,592.6 62.3,592.6 62.3,586.6 59.3,586.6 59.3,581.1 56.3,581.1 56.3,574.5 50.2,574.5 50.2,571.5 45.4,571.5" fill="#e2ebf5"/>
<line x1="40.6" y1="612.21" x2="210.9" y2="612.21" stroke="#b0b0b0" stroke-width="0.6" stroke-dasharray="0.9 0.45"/>
<line x1="40.6" y1="596.72" x2="210.9" y2="596.72" stroke="#b0b0b0" stroke-width="0.6" stroke-dasharray="0.9 0.45"/>
<line x1="40.6" y1="581.22" x2="210.9" y2="581.22" stroke="#b0b0b0" stroke-width="0.6" stroke-dasharray="0.9 0.45"/>
<line x1="40.6" y1="565.73" x2="210.9" y2="565.73" stroke="#b0b0b0" stroke-width="0.6" stroke-dasharray="0.9 0.45"/>
<polyline points="40.4,550.3 45.3,550.3 45.3,553.6 50.3,553.6 50.3,557.5 56.5,557.5 56.5,564.3 59.3,564.3 59.3,571.2 62.2,571.2 62.2,574.8 70.1,574.8 70.1,578.3 82.2,578.3 82.2,581.9 83.9,581.9 83.9,585.5 92.2,585.5 92.2,589.4 96.2,589.4 96.2,592.9 97.7,592.9 97.7,597.5 106.1,597.5 106.1,601.8 121.5,601.8 121.5,606.1 128.9,606.1 128.9,610.4 197.3,610.4" fill="none" stroke="#2d6ca6" stroke-width="1.25"/>
<line x1="90.5" y1="583.7" x2="90.5" y2="586.1" stroke="#555" stroke-width="0.5"/>
<line x1="159.6" y1="608.6" x2="159.6" y2="611" stroke="#555" stroke-width="0.5"/>
<line x1="163.4" y1="608.6" x2="163.4" y2="611" stroke="#555" stroke-width="0.5"/>
<line x1="173.7" y1="608.6" x2="173.7" y2="611" stroke="#555" stroke-width="0.5"/>
<line x1="197.3" y1="608.6" x2="197.3" y2="611" stroke="#555" stroke-width="0.5"/>
<line x1="40.6" y1="542.3" x2="40.6" y2="628.6" stroke="#1a1a1a" stroke-width="1.2"/>
<line x1="37.4" y1="627.7" x2="40.6" y2="627.7" stroke="#1a1a1a" stroke-width="1"/>
<text x="36.7" y="630" font-size="6.5" font-weight="bold" text-anchor="end" stroke="#000" stroke-width="0.2">0</text>
<line x1="37.4" y1="612.21" x2="40.6" y2="612.21" stroke="#1a1a1a" stroke-width="1"/>
<text x="36.7" y="614.51" font-size="6.5" font-weight="bold" text-anchor="end" stroke="#000" stroke-width="0.2">20</text>
<line x1="37.4" y1="596.72" x2="40.6" y2="596.72" stroke="#1a1a1a" stroke-width="1"/>
<text x="36.7" y="599.02" font-size="6.5" font-weight="bold" text-anchor="end" stroke="#000" stroke-width="0.2">40</text>
<line x1="37.4" y1="581.22" x2="40.6" y2="581.22" stroke="#1a1a1a" stroke-width="1"/>
<text x="36.7" y="583.52" font-size="6.5" font-weight="bold" text-anchor="end" stroke="#000" stroke-width="0.2">60</text>
<line x1="37.4" y1="565.73" x2="40.6" y2="565.73" stroke="#1a1a1a" stroke-width="1"/>
<text x="36.7" y="568.03" font-size="6.5" font-weight="bold" text-anchor="end" stroke="#000" stroke-width="0.2">80</text>
<line x1="37.4" y1="550.24" x2="40.6" y2="550.24" stroke="#1a1a1a" stroke-width="1"/>
<text x="36.7" y="552.54" font-size="6.5" font-weight="bold" text-anchor="end" stroke="#000" stroke-width="0.2">100</text>
<line x1="40" y1="627.7" x2="210.9" y2="627.7" stroke="#3c3c3c" stroke-width="1.7"/>
<line x1="40.6" y1="627.7" x2="40.6" y2="629.9" stroke="#1a1a1a" stroke-width="1"/>
<text x="40.6" y="637" font-size="6.5" font-weight="bold" text-anchor="middle" stroke="#000" stroke-width="0.2">0</text>
<line x1="56.45" y1="627.7" x2="56.45" y2="629.9" stroke="#1a1a1a" stroke-width="1"/>
<text x="56.45" y="637" font-size="6.5" font-weight="bold" text-anchor="middle" stroke="#000" stroke-width="0.2">6</text>
<line x1="72.3" y1="627.7" x2="72.3" y2="629.9" stroke="#1a1a1a" stroke-width="1"/>
<text x="72.3" y="637" font-size="6.5" font-weight="bold" text-anchor="middle" stroke="#000" stroke-width="0.2">12</text>
<line x1="88.16" y1="627.7" x2="88.16" y2="629.9" stroke="#1a1a1a" stroke-width="1"/>
<text x="88.16" y="637" font-size="6.5" font-weight="bold" text-anchor="middle" stroke="#000" stroke-width="0.2">18</text>
<line x1="104.01" y1="627.7" x2="104.01" y2="629.9" stroke="#1a1a1a" stroke-width="1"/>
<text x="104.01" y="637" font-size="6.5" font-weight="bold" text-anchor="middle" stroke="#000" stroke-width="0.2">24</text>
<line x1="119.86" y1="627.7" x2="119.86" y2="629.9" stroke="#1a1a1a" stroke-width="1"/>
<text x="119.86" y="637" font-size="6.5" font-weight="bold" text-anchor="middle" stroke="#000" stroke-width="0.2">30</text>
<line x1="135.71" y1="627.7" x2="135.71" y2="629.9" stroke="#1a1a1a" stroke-width="1"/>
<text x="135.71" y="637" font-size="6.5" font-weight="bold" text-anchor="middle" stroke="#000" stroke-width="0.2">36</text>
<line x1="151.56" y1="627.7" x2="151.56" y2="629.9" stroke="#1a1a1a" stroke-width="1"/>
<text x="151.56" y="637" font-size="6.5" font-weight="bold" text-anchor="middle" stroke="#000" stroke-width="0.2">42</text>
<line x1="167.42" y1="627.7" x2="167.42" y2="629.9" stroke="#1a1a1a" stroke-width="1"/>
<text x="167.42" y="637" font-size="6.5" font-weight="bold" text-anchor="middle" stroke="#000" stroke-width="0.2">48</text>
<line x1="183.27" y1="627.7" x2="183.27" y2="629.9" stroke="#1a1a1a" stroke-width="1"/>
<text x="183.27" y="637" font-size="6.5" font-weight="bold" text-anchor="middle" stroke="#000" stroke-width="0.2">54</text>
<line x1="199.12" y1="627.7" x2="199.12" y2="629.9" stroke="#1a1a1a" stroke-width="1"/>
<text x="199.12" y="637" font-size="6.5" font-weight="bold" text-anchor="middle" stroke="#000" stroke-width="0.2">60</text>
<text x="126" y="644.5" font-size="6.6" font-weight="bold" text-anchor="middle" textLength="70.5" lengthAdjust="spacingAndGlyphs" stroke="#000" stroke-width="0.2">Months From Resection</text>
<text x="23.3" y="584.5" font-size="6.3" font-weight="bold" text-anchor="middle" transform="rotate(-90 23.3 584.5)" textLength="72.3" lengthAdjust="spacingAndGlyphs" stroke="#000" stroke-width="0.2">Patients Disease-Free, %</text>
<rect x="111.6" y="567.2" width="87.5" height="12.4" fill="#fff" stroke="#8a8a8a" stroke-width="0.8"/>
<line x1="113.6" y1="573.4" x2="120.1" y2="573.4" stroke="#2d6ca6" stroke-width="1.3"/>
<line x1="116.85" y1="571.8" x2="116.85" y2="573.4" stroke="#2d6ca6" stroke-width="0.6"/>
<text x="123.1" y="575.7" font-size="7" textLength="74.4" lengthAdjust="spacingAndGlyphs">Surgery Patients (N=22)</text>
<text x="-1" y="643.9" font-size="5.3"># at risk</text>
<text x="1.7" y="652.5" font-size="5.3">Surgery Pts</text>
<text x="40.6" y="652.5" font-size="5.8" text-anchor="middle">22</text>
<text x="56.45" y="652.5" font-size="5.8" text-anchor="middle">20</text>
<text x="72.3" y="652.5" font-size="5.8" text-anchor="middle">15</text>
<text x="88.16" y="652.5" font-size="5.8" text-anchor="middle">13</text>
<text x="104.01" y="652.5" font-size="5.8" text-anchor="middle">8</text>
<text x="119.86" y="652.5" font-size="5.8" text-anchor="middle">7</text>
<text x="135.71" y="652.5" font-size="5.8" text-anchor="middle">5</text>
<text x="151.56" y="652.5" font-size="5.8" text-anchor="middle">5</text>
<text x="167.42" y="652.5" font-size="5.8" text-anchor="middle">3</text>
<text x="183.27" y="652.5" font-size="5.8" text-anchor="middle">2</text>
<text x="199.12" y="652.5" font-size="5.8" text-anchor="middle">1</text>
<text x="247.6" y="513.4" font-size="18">E</text>
<text x="275.4" y="533.7" font-size="11.4" textLength="132.6" lengthAdjust="spacingAndGlyphs">Progression-Free Survival</text>
<line x1="275.4" y1="535.6" x2="408" y2="535.6" stroke="#000" stroke-width="0.8"/>
<clipPath id="cE"><polygon points="284.3,550.7 290.2,550.7 290.2,550.7 301,550.7 301,552 305.8,552 305.8,557 308,557 308,563.4 320.7,563.4 320.7,565.6 326.4,565.6 326.4,571.7 338.5,571.7 338.5,576 341,576 341,578.5 343.4,578.5 343.4,581.5 347,581.5 347,589.8 359.6,589.8 359.6,592.9 374.9,592.9 374.9,596 438.9,596 438.9,620.5 374.9,620.5 374.9,617.5 359.6,617.5 359.6,614.5 347,614.5 347,610 343.4,610 343.4,607 341,607 341,604.5 338.5,604.5 338.5,601.5 326.4,601.5 326.4,596.5 320.7,596.5 320.7,594 308,594 308,586 305.8,586 305.8,576 301,576 301,573 290.2,573 290.2,571.7 284.3,571.7"/></clipPath>
<polygon points="284.3,550.7 290.2,550.7 290.2,550.7 301,550.7 301,552 305.8,552 305.8,557 308,557 308,563.4 320.7,563.4 320.7,565.6 326.4,565.6 326.4,571.7 338.5,571.7 338.5,576 341,576 341,578.5 343.4,578.5 343.4,581.5 347,581.5 347,589.8 359.6,589.8 359.6,592.9 374.9,592.9 374.9,596 438.9,596 438.9,620.5 374.9,620.5 374.9,617.5 359.6,617.5 359.6,614.5 347,614.5 347,610 343.4,610 343.4,607 341,607 341,604.5 338.5,604.5 338.5,601.5 326.4,601.5 326.4,596.5 320.7,596.5 320.7,594 308,594 308,586 305.8,586 305.8,576 301,576 301,573 290.2,573 290.2,571.7 284.3,571.7" fill="#e3ebf4"/>
<polygon points="284.3,553 290.2,553 290.2,555 301,555 301,557.5 305.8,557.5 305.8,562 308,562 308,567.5 320.7,567.5 320.7,570 326.4,570 326.4,576 338.5,576 338.5,580 341,580 341,583 343.4,583 343.4,586.5 347,586.5 347,591.5 359.6,591.5 359.6,595 374.9,595 374.9,598.2 438.9,598.2 438.9,622.8 374.9,622.8 374.9,621 359.6,621 359.6,618.5 347,618.5 347,615 343.4,615 343.4,611 341,611 341,607.5 338.5,607.5 338.5,604.5 326.4,604.5 326.4,599.7 320.7,599.7 320.7,597.6 308,597.6 308,588.8 305.8,588.8 305.8,578.7 301,578.7 301,575.2 290.2,575.2 290.2,572.5 284.3,572.5" fill="#fdf1e4"/>
<polygon points="284.3,553 290.2,553 290.2,555 301,555 301,557.5 305.8,557.5 305.8,562 308,562 308,567.5 320.7,567.5 320.7,570 326.4,570 326.4,576 338.5,576 338.5,580 341,580 341,583 343.4,583 343.4,586.5 347,586.5 347,591.5 359.6,591.5 359.6,595 374.9,595 374.9,598.2 438.9,598.2 438.9,622.8 374.9,622.8 374.9,621 359.6,621 359.6,618.5 347,618.5 347,615 343.4,615 343.4,611 341,611 341,607.5 338.5,607.5 338.5,604.5 326.4,604.5 326.4,599.7 320.7,599.7 320.7,597.6 308,597.6 308,588.8 305.8,588.8 305.8,578.7 301,578.7 301,575.2 290.2,575.2 290.2,572.5 284.3,572.5" fill="#e9e5dd" clip-path="url(#cE)"/>
<line x1="269.5" y1="612.21" x2="440.4" y2="612.21" stroke="#b0b0b0" stroke-width="0.6" stroke-dasharray="0.9 0.45"/>
<line x1="269.5" y1="596.72" x2="440.4" y2="596.72" stroke="#b0b0b0" stroke-width="0.6" stroke-dasharray="0.9 0.45"/>
<line x1="269.5" y1="581.22" x2="440.4" y2="581.22" stroke="#b0b0b0" stroke-width="0.6" stroke-dasharray="0.9 0.45"/>
<line x1="269.5" y1="565.73" x2="440.4" y2="565.73" stroke="#b0b0b0" stroke-width="0.6" stroke-dasharray="0.9 0.45"/>
<polyline points="269.7,550.3 284.3,550.3 284.3,553.6 300.8,553.6 300.8,557.5 305.8,557.5 305.8,564.3 307.6,564.3 307.6,574.8 320.8,574.8 320.8,578.3 326.5,578.3 326.5,585.5 338.7,585.5 338.7,589.4 341.1,589.4 341.1,592.9 343.4,592.9 343.4,597.2 347.3,597.2 347.3,601.3 359.6,601.3 359.6,605.9 374.9,605.9 374.9,610.5 438.9,610.5" fill="none" stroke="#2d6ca6" stroke-width="1.25"/>
<polyline points="269.7,550.3 284.3,550.3 284.3,553.6 286.5,553.6 286.5,556.5 289.6,556.5 289.6,559.3 300.5,559.3 300.5,562.2 305.1,562.2 305.1,565 306.5,565 306.5,570 307.9,570 307.9,581.2 320.5,581.2 320.5,584.4 326.5,584.4 326.5,590.4 338.3,590.4 338.3,594.1 340.8,594.1 340.8,597.2 343.4,597.2 343.4,600.8 346.6,600.8 346.6,604.4 359.6,604.4 359.6,608.5 374.9,608.5 374.9,612.3 438.9,612.3" fill="none" stroke="#f6a21f" stroke-width="1.25"/>
<line x1="401.3" y1="608.7" x2="401.3" y2="611.1" stroke="#444" stroke-width="0.5"/>
<line x1="404.1" y1="608.7" x2="404.1" y2="611.1" stroke="#444" stroke-width="0.5"/>
<line x1="410.5" y1="608.7" x2="410.5" y2="611.1" stroke="#444" stroke-width="0.5"/>
<line x1="438.1" y1="608.7" x2="438.1" y2="611.1" stroke="#444" stroke-width="0.5"/>
<line x1="333.5" y1="583.7" x2="333.5" y2="586.1" stroke="#666" stroke-width="0.5"/>
<line x1="333.5" y1="588.6" x2="333.5" y2="591" stroke="#666" stroke-width="0.5"/>
<line x1="269.5" y1="542.3" x2="269.5" y2="628.6" stroke="#1a1a1a" stroke-width="1.2"/>
<line x1="266.3" y1="627.7" x2="269.5" y2="627.7" stroke="#1a1a1a" stroke-width="1"/>
<text x="265.6" y="630" font-size="6.5" font-weight="bold" text-anchor="end" stroke="#000" stroke-width="0.2">0</text>
<line x1="266.3" y1="612.21" x2="269.5" y2="612.21" stroke="#1a1a1a" stroke-width="1"/>
<text x="265.6" y="614.51" font-size="6.5" font-weight="bold" text-anchor="end" stroke="#000" stroke-width="0.2">20</text>
<line x1="266.3" y1="596.72" x2="269.5" y2="596.72" stroke="#1a1a1a" stroke-width="1"/>
<text x="265.6" y="599.02" font-size="6.5" font-weight="bold" text-anchor="end" stroke="#000" stroke-width="0.2">40</text>
<line x1="266.3" y1="581.22" x2="269.5" y2="581.22" stroke="#1a1a1a" stroke-width="1"/>
<text x="265.6" y="583.52" font-size="6.5" font-weight="bold" text-anchor="end" stroke="#000" stroke-width="0.2">60</text>
<line x1="266.3" y1="565.73" x2="269.5" y2="565.73" stroke="#1a1a1a" stroke-width="1"/>
<text x="265.6" y="568.03" font-size="6.5" font-weight="bold" text-anchor="end" stroke="#000" stroke-width="0.2">80</text>
<line x1="266.3" y1="550.24" x2="269.5" y2="550.24" stroke="#1a1a1a" stroke-width="1"/>
<text x="265.6" y="552.54" font-size="6.5" font-weight="bold" text-anchor="end" stroke="#000" stroke-width="0.2">100</text>
<line x1="268.9" y1="627.7" x2="440.4" y2="627.7" stroke="#3c3c3c" stroke-width="1.7"/>
<line x1="269.5" y1="627.7" x2="269.5" y2="629.9" stroke="#1a1a1a" stroke-width="1"/>
<text x="269.5" y="637" font-size="6.5" font-weight="bold" text-anchor="middle" stroke="#000" stroke-width="0.2">0</text>
<line x1="285.29" y1="627.7" x2="285.29" y2="629.9" stroke="#1a1a1a" stroke-width="1"/>
<text x="285.29" y="637" font-size="6.5" font-weight="bold" text-anchor="middle" stroke="#000" stroke-width="0.2">6</text>
<line x1="301.08" y1="627.7" x2="301.08" y2="629.9" stroke="#1a1a1a" stroke-width="1"/>
<text x="301.08" y="637" font-size="6.5" font-weight="bold" text-anchor="middle" stroke="#000" stroke-width="0.2">12</text>
<line x1="316.88" y1="627.7" x2="316.88" y2="629.9" stroke="#1a1a1a" stroke-width="1"/>
<text x="316.88" y="637" font-size="6.5" font-weight="bold" text-anchor="middle" stroke="#000" stroke-width="0.2">18</text>
<line x1="332.67" y1="627.7" x2="332.67" y2="629.9" stroke="#1a1a1a" stroke-width="1"/>
<text x="332.67" y="637" font-size="6.5" font-weight="bold" text-anchor="middle" stroke="#000" stroke-width="0.2">24</text>
<line x1="348.46" y1="627.7" x2="348.46" y2="629.9" stroke="#1a1a1a" stroke-width="1"/>
<text x="348.46" y="637" font-size="6.5" font-weight="bold" text-anchor="middle" stroke="#000" stroke-width="0.2">30</text>
<line x1="364.25" y1="627.7" x2="364.25" y2="629.9" stroke="#1a1a1a" stroke-width="1"/>
<text x="364.25" y="637" font-size="6.5" font-weight="bold" text-anchor="middle" stroke="#000" stroke-width="0.2">36</text>
<line x1="380.04" y1="627.7" x2="380.04" y2="629.9" stroke="#1a1a1a" stroke-width="1"/>
<text x="380.04" y="637" font-size="6.5" font-weight="bold" text-anchor="middle" stroke="#000" stroke-width="0.2">42</text>
<line x1="395.84" y1="627.7" x2="395.84" y2="629.9" stroke="#1a1a1a" stroke-width="1"/>
<text x="395.84" y="637" font-size="6.5" font-weight="bold" text-anchor="middle" stroke="#000" stroke-width="0.2">48</text>
<line x1="411.63" y1="627.7" x2="411.63" y2="629.9" stroke="#1a1a1a" stroke-width="1"/>
<text x="411.63" y="637" font-size="6.5" font-weight="bold" text-anchor="middle" stroke="#000" stroke-width="0.2">54</text>
<line x1="427.42" y1="627.7" x2="427.42" y2="629.9" stroke="#1a1a1a" stroke-width="1"/>
<text x="427.42" y="637" font-size="6.5" font-weight="bold" text-anchor="middle" stroke="#000" stroke-width="0.2">60</text>
<text x="355.2" y="644.5" font-size="6.6" font-weight="bold" text-anchor="middle" textLength="73.5" lengthAdjust="spacingAndGlyphs" stroke="#000" stroke-width="0.2">Months From Enrollment</text>
<text x="252.2" y="584.3" font-size="6.3" font-weight="bold" text-anchor="middle" transform="rotate(-90 252.2 584.3)" textLength="85.3" lengthAdjust="spacingAndGlyphs" stroke="#000" stroke-width="0.2">Patients Progression-Free, %</text>
<rect x="342.3" y="554.6" width="87.4" height="22.6" fill="#fff" stroke="#8a8a8a" stroke-width="0.8"/>
<line x1="344.3" y1="561.2" x2="350.8" y2="561.2" stroke="#f6a21f" stroke-width="1.3"/>
<line x1="347.55" y1="559.6" x2="347.55" y2="561.2" stroke="#f6a21f" stroke-width="0.6"/>
<text x="353.8" y="563.5" font-size="7" textLength="58.2" lengthAdjust="spacingAndGlyphs">All Patients (N=26)</text>
<line x1="344.3" y1="570.3" x2="350.8" y2="570.3" stroke="#2d6ca6" stroke-width="1.3"/>
<line x1="347.55" y1="568.7" x2="347.55" y2="570.3" stroke="#2d6ca6" stroke-width="0.6"/>
<text x="353.8" y="572.6" font-size="7" textLength="74.8" lengthAdjust="spacingAndGlyphs">Surgery Patients (N=22)</text>
<text x="229.3" y="643.9" font-size="5.3"># at risk</text>
<text x="258.4" y="653.3" font-size="5.3" text-anchor="end">All Pts</text>
<text x="269.5" y="653.3" font-size="5.8" text-anchor="middle">26</text>
<text x="285.29" y="653.3" font-size="5.8" text-anchor="middle">26</text>
<text x="301.08" y="653.3" font-size="5.8" text-anchor="middle">22</text>
<text x="316.88" y="653.3" font-size="5.8" text-anchor="middle">17</text>
<text x="332.67" y="653.3" font-size="5.8" text-anchor="middle">14</text>
<text x="348.46" y="653.3" font-size="5.8" text-anchor="middle">7</text>
<text x="364.25" y="653.3" font-size="5.8" text-anchor="middle">6</text>
<text x="380.04" y="653.3" font-size="5.8" text-anchor="middle">5</text>
<text x="395.84" y="653.3" font-size="5.8" text-anchor="middle">5</text>
<text x="411.63" y="653.3" font-size="5.8" text-anchor="middle">3</text>
<text x="427.42" y="653.3" font-size="5.8" text-anchor="middle">2</text>
<text x="258.4" y="662.3" font-size="5.3" text-anchor="end">Surgery Pts</text>
<text x="269.5" y="662.3" font-size="5.8" text-anchor="middle">22</text>
<text x="285.29" y="662.3" font-size="5.8" text-anchor="middle">22</text>
<text x="301.08" y="662.3" font-size="5.8" text-anchor="middle">21</text>
<text x="316.88" y="662.3" font-size="5.8" text-anchor="middle">17</text>
<text x="332.67" y="662.3" font-size="5.8" text-anchor="middle">14</text>
<text x="348.46" y="662.3" font-size="5.8" text-anchor="middle">7</text>
<text x="364.25" y="662.3" font-size="5.8" text-anchor="middle">6</text>
<text x="380.04" y="662.3" font-size="5.8" text-anchor="middle">5</text>
<text x="395.84" y="662.3" font-size="5.8" text-anchor="middle">5</text>
<text x="411.63" y="662.3" font-size="5.8" text-anchor="middle">3</text>
<text x="427.42" y="662.3" font-size="5.8" text-anchor="middle">2</text>
<text x="490.2" y="512.6" font-size="17.5">F</text>
<text x="530.6" y="533.7" font-size="11.4" textLength="79.9" lengthAdjust="spacingAndGlyphs">Overall Survival</text>
<line x1="530.6" y1="535.6" x2="610.5" y2="535.6" stroke="#000" stroke-width="0.8"/>
<clipPath id="cF"><polygon points="518.5,550.9 524.5,550.9 524.5,550.9 531,550.9 531,552.9 542.2,552.9 542.2,555.5 554,555.5 554,558.1 564.5,558.1 564.5,560.8 571.8,560.8 571.8,562.1 581,562.1 581,564.7 589.5,564.7 589.5,569.9 599.2,569.9 599.2,578 614.5,578 614.5,582.9 667.4,582.9 667.4,615.9 614.5,615.9 614.5,611 599.2,611 599.2,603 589.5,603 589.5,597 581,597 581,591 571.8,591 571.8,587 564.5,587 564.5,584.5 554,584.5 554,580.5 542.2,580.5 542.2,576.5 531,576.5 531,572.5 524.5,572.5 524.5,568.5 518.5,568.5"/></clipPath>
<polygon points="518.5,550.9 524.5,550.9 524.5,550.9 531,550.9 531,552.9 542.2,552.9 542.2,555.5 554,555.5 554,558.1 564.5,558.1 564.5,560.8 571.8,560.8 571.8,562.1 581,562.1 581,564.7 589.5,564.7 589.5,569.9 599.2,569.9 599.2,578 614.5,578 614.5,582.9 667.4,582.9 667.4,615.9 614.5,615.9 614.5,611 599.2,611 599.2,603 589.5,603 589.5,597 581,597 581,591 571.8,591 571.8,587 564.5,587 564.5,584.5 554,584.5 554,580.5 542.2,580.5 542.2,576.5 531,576.5 531,572.5 524.5,572.5 524.5,568.5 518.5,568.5" fill="#e3ebf4"/>
<polygon points="518.5,551.5 524.5,551.5 524.5,553 531,553 531,556.8 542.2,556.8 542.2,559.5 554,559.5 554,562 564.5,562 564.5,566 571.8,566 571.8,569.3 581,569.3 581,570.6 589.5,570.6 589.5,576.5 599.2,576.5 599.2,584 614.5,584 614.5,588.3 667.4,588.3 667.4,617.4 614.5,617.4 614.5,612.5 599.2,612.5 599.2,606.8 589.5,606.8 589.5,600.2 581,600.2 581,596.2 571.8,596.2 571.8,591 564.5,591 564.5,588.4 554,588.4 554,583.1 542.2,583.1 542.2,579.2 531,579.2 531,575.2 524.5,575.2 524.5,571.3 518.5,571.3" fill="#fdf1e4"/>
<polygon points="518.5,551.5 524.5,551.5 524.5,553 531,553 531,556.8 542.2,556.8 542.2,559.5 554,559.5 554,562 564.5,562 564.5,566 571.8,566 571.8,569.3 581,569.3 581,570.6 589.5,570.6 589.5,576.5 599.2,576.5 599.2,584 614.5,584 614.5,588.3 667.4,588.3 667.4,617.4 614.5,617.4 614.5,612.5 599.2,612.5 599.2,606.8 589.5,606.8 589.5,600.2 581,600.2 581,596.2 571.8,596.2 571.8,591 564.5,591 564.5,588.4 554,588.4 554,583.1 542.2,583.1 542.2,579.2 531,579.2 531,575.2 524.5,575.2 524.5,571.3 518.5,571.3" fill="#e9e5dd" clip-path="url(#cF)"/>
<line x1="498.6" y1="612.21" x2="668.9" y2="612.21" stroke="#b0b0b0" stroke-width="0.6" stroke-dasharray="0.9 0.45"/>
<line x1="498.6" y1="596.72" x2="668.9" y2="596.72" stroke="#b0b0b0" stroke-width="0.6" stroke-dasharray="0.9 0.45"/>
<line x1="498.6" y1="581.22" x2="668.9" y2="581.22" stroke="#b0b0b0" stroke-width="0.6" stroke-dasharray="0.9 0.45"/>
<line x1="498.6" y1="565.73" x2="668.9" y2="565.73" stroke="#b0b0b0" stroke-width="0.6" stroke-dasharray="0.9 0.45"/>
<polyline points="498.6,550.3 518.6,550.3 518.6,553.6 531.5,553.6 531.5,557.5 542.2,557.5 542.2,560.7 553.9,560.7 553.9,564.3 564.4,564.3 564.4,567.9 571.5,567.9 571.5,571.5 581.6,571.5 581.6,576.5 589.5,576.5 589.5,584.5 599.2,584.5 599.2,594.4 614.5,594.4 614.5,599 667.4,599" fill="none" stroke="#2d6ca6" stroke-width="1.25"/>
<polyline points="498.6,550.3 518.2,550.3 518.2,552.9 519.2,552.9 519.2,556 523.6,556 523.6,558.9 526.2,558.9 526.2,562.2 531.5,562.2 531.5,565.5 542.2,565.5 542.2,568.3 553.7,568.3 553.7,571.2 556.5,571.2 556.5,574.1 564.4,574.1 564.4,577.5 571.5,577.5 571.5,580.8 581.6,580.8 581.6,584.5 589.5,584.5 589.5,591.3 599.2,591.3 599.2,599.3 613.7,599.3 613.7,603.3 667.4,603.3" fill="none" stroke="#f6a21f" stroke-width="1.25"/>
<line x1="617.6" y1="597.2" x2="617.6" y2="599.6" stroke="#444" stroke-width="0.5"/>
<line x1="617.6" y1="601.5" x2="617.6" y2="603.9" stroke="#666" stroke-width="0.5"/>
<line x1="630.6" y1="597.2" x2="630.6" y2="599.6" stroke="#444" stroke-width="0.5"/>
<line x1="630.6" y1="601.5" x2="630.6" y2="603.9" stroke="#666" stroke-width="0.5"/>
<line x1="632.1" y1="597.2" x2="632.1" y2="599.6" stroke="#444" stroke-width="0.5"/>
<line x1="632.1" y1="601.5" x2="632.1" y2="603.9" stroke="#666" stroke-width="0.5"/>
<line x1="639.5" y1="597.2" x2="639.5" y2="599.6" stroke="#444" stroke-width="0.5"/>
<line x1="639.5" y1="601.5" x2="639.5" y2="603.9" stroke="#666" stroke-width="0.5"/>
<line x1="656.2" y1="597.2" x2="656.2" y2="599.6" stroke="#444" stroke-width="0.5"/>
<line x1="656.2" y1="601.5" x2="656.2" y2="603.9" stroke="#666" stroke-width="0.5"/>
<line x1="667.4" y1="597.2" x2="667.4" y2="599.6" stroke="#444" stroke-width="0.5"/>
<line x1="667.4" y1="601.5" x2="667.4" y2="603.9" stroke="#666" stroke-width="0.5"/>
<line x1="562.2" y1="562.5" x2="562.2" y2="564.9" stroke="#555" stroke-width="0.5"/>
<line x1="569.6" y1="566.1" x2="569.6" y2="568.5" stroke="#555" stroke-width="0.5"/>
<line x1="562.2" y1="575.7" x2="562.2" y2="578.1" stroke="#555" stroke-width="0.5"/>
<line x1="569.6" y1="579" x2="569.6" y2="581.4" stroke="#555" stroke-width="0.5"/>
<line x1="572.5" y1="579" x2="572.5" y2="581.4" stroke="#555" stroke-width="0.5"/>
<line x1="498.6" y1="542.3" x2="498.6" y2="628.6" stroke="#1a1a1a" stroke-width="1.2"/>
<line x1="495.4" y1="627.7" x2="498.6" y2="627.7" stroke="#1a1a1a" stroke-width="1"/>
<text x="494.7" y="630" font-size="6.5" font-weight="bold" text-anchor="end" stroke="#000" stroke-width="0.2">0</text>
<line x1="495.4" y1="612.21" x2="498.6" y2="612.21" stroke="#1a1a1a" stroke-width="1"/>
<text x="494.7" y="614.51" font-size="6.5" font-weight="bold" text-anchor="end" stroke="#000" stroke-width="0.2">20</text>
<line x1="495.4" y1="596.72" x2="498.6" y2="596.72" stroke="#1a1a1a" stroke-width="1"/>
<text x="494.7" y="599.02" font-size="6.5" font-weight="bold" text-anchor="end" stroke="#000" stroke-width="0.2">40</text>
<line x1="495.4" y1="581.22" x2="498.6" y2="581.22" stroke="#1a1a1a" stroke-width="1"/>
<text x="494.7" y="583.52" font-size="6.5" font-weight="bold" text-anchor="end" stroke="#000" stroke-width="0.2">60</text>
<line x1="495.4" y1="565.73" x2="498.6" y2="565.73" stroke="#1a1a1a" stroke-width="1"/>
<text x="494.7" y="568.03" font-size="6.5" font-weight="bold" text-anchor="end" stroke="#000" stroke-width="0.2">80</text>
<line x1="495.4" y1="550.24" x2="498.6" y2="550.24" stroke="#1a1a1a" stroke-width="1"/>
<text x="494.7" y="552.54" font-size="6.5" font-weight="bold" text-anchor="end" stroke="#000" stroke-width="0.2">100</text>
<line x1="498" y1="627.7" x2="668.9" y2="627.7" stroke="#3c3c3c" stroke-width="1.7"/>
<line x1="498.6" y1="627.7" x2="498.6" y2="629.9" stroke="#1a1a1a" stroke-width="1"/>
<text x="498.6" y="637" font-size="6.5" font-weight="bold" text-anchor="middle" stroke="#000" stroke-width="0.2">0</text>
<line x1="514.32" y1="627.7" x2="514.32" y2="629.9" stroke="#1a1a1a" stroke-width="1"/>
<text x="514.32" y="637" font-size="6.5" font-weight="bold" text-anchor="middle" stroke="#000" stroke-width="0.2">6</text>
<line x1="530.04" y1="627.7" x2="530.04" y2="629.9" stroke="#1a1a1a" stroke-width="1"/>
<text x="530.04" y="637" font-size="6.5" font-weight="bold" text-anchor="middle" stroke="#000" stroke-width="0.2">12</text>
<line x1="545.76" y1="627.7" x2="545.76" y2="629.9" stroke="#1a1a1a" stroke-width="1"/>
<text x="545.76" y="637" font-size="6.5" font-weight="bold" text-anchor="middle" stroke="#000" stroke-width="0.2">18</text>
<line x1="561.48" y1="627.7" x2="561.48" y2="629.9" stroke="#1a1a1a" stroke-width="1"/>
<text x="561.48" y="637" font-size="6.5" font-weight="bold" text-anchor="middle" stroke="#000" stroke-width="0.2">24</text>
<line x1="577.2" y1="627.7" x2="577.2" y2="629.9" stroke="#1a1a1a" stroke-width="1"/>
<text x="577.2" y="637" font-size="6.5" font-weight="bold" text-anchor="middle" stroke="#000" stroke-width="0.2">30</text>
<line x1="592.92" y1="627.7" x2="592.92" y2="629.9" stroke="#1a1a1a" stroke-width="1"/>
<text x="592.92" y="637" font-size="6.5" font-weight="bold" text-anchor="middle" stroke="#000" stroke-width="0.2">36</text>
<line x1="608.64" y1="627.7" x2="608.64" y2="629.9" stroke="#1a1a1a" stroke-width="1"/>
<text x="608.64" y="637" font-size="6.5" font-weight="bold" text-anchor="middle" stroke="#000" stroke-width="0.2">42</text>
<line x1="624.36" y1="627.7" x2="624.36" y2="629.9" stroke="#1a1a1a" stroke-width="1"/>
<text x="624.36" y="637" font-size="6.5" font-weight="bold" text-anchor="middle" stroke="#000" stroke-width="0.2">48</text>
<line x1="640.08" y1="627.7" x2="640.08" y2="629.9" stroke="#1a1a1a" stroke-width="1"/>
<text x="640.08" y="637" font-size="6.5" font-weight="bold" text-anchor="middle" stroke="#000" stroke-width="0.2">54</text>
<line x1="655.8" y1="627.7" x2="655.8" y2="629.9" stroke="#1a1a1a" stroke-width="1"/>
<text x="655.8" y="637" font-size="6.5" font-weight="bold" text-anchor="middle" stroke="#000" stroke-width="0.2">60</text>
<text x="583.8" y="644.5" font-size="6.6" font-weight="bold" text-anchor="middle" textLength="73" lengthAdjust="spacingAndGlyphs" stroke="#000" stroke-width="0.2">Months From Enrollment</text>
<text x="481.3" y="583.9" font-size="6.3" font-weight="bold" text-anchor="middle" transform="rotate(-90 481.3 583.9)" textLength="48.7" lengthAdjust="spacingAndGlyphs" stroke="#000" stroke-width="0.2">Patients Alive, %</text>
<rect x="500.9" y="603.3" width="87.5" height="23.3" fill="#fff" stroke="#8a8a8a" stroke-width="0.8"/>
<line x1="502.9" y1="610.1" x2="509.4" y2="610.1" stroke="#f6a21f" stroke-width="1.3"/>
<line x1="506.15" y1="608.5" x2="506.15" y2="610.1" stroke="#f6a21f" stroke-width="0.6"/>
<text x="512.4" y="612.4" font-size="7" textLength="57.6" lengthAdjust="spacingAndGlyphs">All Patients (N=26)</text>
<line x1="502.9" y1="620.4" x2="509.4" y2="620.4" stroke="#2d6ca6" stroke-width="1.3"/>
<line x1="506.15" y1="618.8" x2="506.15" y2="620.4" stroke="#2d6ca6" stroke-width="0.6"/>
<text x="512.4" y="622.7" font-size="7" textLength="74.1" lengthAdjust="spacingAndGlyphs">Surgery Patients (N=22)</text>
<text x="457.8" y="643.9" font-size="5.3"># at risk</text>
<text x="487.2" y="653.3" font-size="5.3" text-anchor="end">All Pts</text>
<text x="498.6" y="653.3" font-size="5.8" text-anchor="middle">26</text>
<text x="514.32" y="653.3" font-size="5.8" text-anchor="middle">26</text>
<text x="530.04" y="653.3" font-size="5.8" text-anchor="middle">23</text>
<text x="545.76" y="653.3" font-size="5.8" text-anchor="middle">21</text>
<text x="561.48" y="653.3" font-size="5.8" text-anchor="middle">19</text>
<text x="577.2" y="653.3" font-size="5.8" text-anchor="middle">14</text>
<text x="592.92" y="653.3" font-size="5.8" text-anchor="middle">11</text>
<text x="608.64" y="653.3" font-size="5.8" text-anchor="middle">8</text>
<text x="624.36" y="653.3" font-size="5.8" text-anchor="middle">6</text>
<text x="640.08" y="653.3" font-size="5.8" text-anchor="middle">3</text>
<text x="655.8" y="653.3" font-size="5.8" text-anchor="middle">2</text>
<text x="487.2" y="662.3" font-size="5.3" text-anchor="end">Surgery Pts</text>
<text x="498.6" y="662.3" font-size="5.8" text-anchor="middle">22</text>
<text x="514.32" y="662.3" font-size="5.8" text-anchor="middle">22</text>
<text x="530.04" y="662.3" font-size="5.8" text-anchor="middle">22</text>
<text x="545.76" y="662.3" font-size="5.8" text-anchor="middle">20</text>
<text x="561.48" y="662.3" font-size="5.8" text-anchor="middle">19</text>
<text x="577.2" y="662.3" font-size="5.8" text-anchor="middle">14</text>
<text x="592.92" y="662.3" font-size="5.8" text-anchor="middle">11</text>
<text x="608.64" y="662.3" font-size="5.8" text-anchor="middle">8</text>
<text x="624.36" y="662.3" font-size="5.8" text-anchor="middle">6</text>
<text x="640.08" y="662.3" font-size="5.8" text-anchor="middle">3</text>
<text x="655.8" y="662.3" font-size="5.8" text-anchor="middle">2</text>
</svg>
</body></html>
